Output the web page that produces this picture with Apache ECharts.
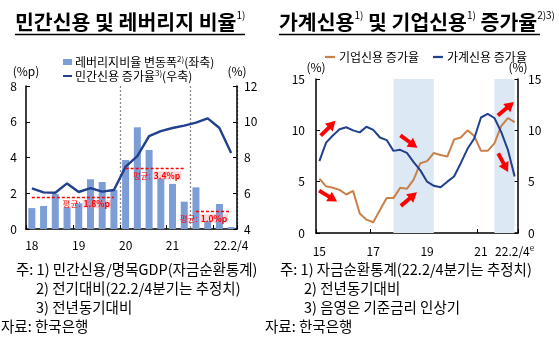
<!DOCTYPE html>
<html>
<head>
<meta charset="utf-8">
<script src="https://cdn.jsdelivr.net/npm/echarts@6/dist/echarts.min.js"></script>
<style>
  html, body { margin: 0; padding: 0; background: #fff; }
  #chart { width: 559px; height: 340px; }
</style>
</head>
<body>
<div id="chart"></div>
<script>
// ---- Left panel: private credit and leverage (quarterly, 18.1/4 ~ 22.2/4) ----
const leftQuarters = ['18.1','18.2','18.3','18.4','19.1','19.2','19.3','19.4',
                      '20.1','20.2','20.3','20.4','21.1','21.2','21.3','21.4',
                      '22.1','22.2'];
const leverageChange = [1.17, 1.29, 1.96, 1.21, 1.44, 2.78, 2.63, 2.20,
                        3.86, 5.69, 4.42, 2.83, 2.52, 1.53, 2.33, 0.45,
                        1.40, 0.11];
const privateCreditGrowth = [6.27, 6.05, 6.03, 6.55, 6.07, 6.29, 6.09, 6.18,
                             7.49, 8.08, 9.20, 9.48, 9.65, 9.78, 9.95, 10.19,
                             9.65, 8.25];
const leftTickCats = ['18.1', '19.1', '20.1', '21.1', '22.2'];
const leftTickText = ['18', '19', '20', '21', '22.2/4'];
// period averages of the leverage change
const avgFrom = ['18.1', '20.1', '21.3'];
const avgTo = ['19.4', '21.2', '22.2'];
const avgValue = [1.8, 3.4, 1.0];
// dotted separators sit on the boundaries before these quarters
const periodBreaks = ['20.1', '21.3'];

// ---- Right panel: household vs corporate credit growth (15.1/4 ~ 22.2/4) ----
const rightQuarters = ['15.1','15.2','15.3','15.4','16.1','16.2','16.3','16.4',
                       '17.1','17.2','17.3','17.4','18.1','18.2','18.3','18.4',
                       '19.1','19.2','19.3','19.4','20.1','20.2','20.3','20.4',
                       '21.1','21.2','21.3','21.4','22.1','22.2'];
const householdGrowth = [7.0, 8.8, 9.5, 10.1, 10.3, 10.0, 9.8, 10.35,
                         10.05, 9.3, 9.05, 8.0, 8.1, 7.8, 6.9, 6.1,
                         5.0, 4.6, 4.45, 5.0, 5.5, 6.8, 8.2, 9.2,
                         11.25, 11.6, 11.2, 9.85, 8.1, 5.5];
const corporateGrowth = [5.3, 4.55, 4.4, 4.2, 3.75, 4.1, 1.9, 1.3,
                         1.05, 2.25, 3.4, 3.4, 4.4, 4.3, 5.2, 6.8,
                         7.0, 7.8, 7.6, 7.45, 9.1, 9.3, 10.0, 9.45,
                         8.0, 8.0, 8.73, 10.4, 11.2, 10.8];
const rightTickCats = ['15.1', '17.1', '19.1', '21.1', '22.2'];
const rightTickText = ['15', '17', '19', '21', '22.2/4'];
// base-rate hike periods (shaded)
const hikeFrom = ['17.4', '21.3'];
const hikeTo = ['19.2', '22.2'];
// direction arrows: anchor quarter, value, angle (deg), sideways nudge (px)
const arrowAt = ['15.2', '15.2', '18.2', '18.2', '22.1', '21.4'];
const arrowVal = [10.2, 3.6, 8.9, 3.3, 12.1, 6.85];
const arrowAngle = [45, -31, -36, 40, 40, -62];
const arrowNudge = [2, 2, 2, 2, -2, 2];

const FONT = '"Noto Sans CJK KR", "Noto Sans", sans-serif';
const NAVY = '#21408d';
const BAR = '#7d9dd7';
const ORANGE = '#c98149';
const RED = '#ff0000';
const ARROW_PATH = 'path://M0,3.2 L11,3.2 L11,0 L20,5 L11,10 L11,6.8 L0,6.8 Z';
const LINE_ICON = 'path://M0,0 L20,0 L20,4.5 L0,4.5 Z';

const chart = echarts.init(document.getElementById('chart'), null, { renderer: 'canvas' });

const axisLine = { show: true, lineStyle: { color: '#000', width: 1.5 } };
const axisLabelBase = { color: '#000', fontFamily: FONT, fontSize: 12 };

function labelFrom(cats, texts) {
  return function (v) {
    const k = cats.indexOf(v);
    return k < 0 ? '' : texts[k];
  };
}

const avgLines = avgValue.map(function (v, i) {
  return [
    { coord: [avgFrom[i], v], value: v },
    { coord: [avgTo[i], v] }
  ];
});

const option = {
  animation: false,
  textStyle: { fontFamily: FONT },
  grid: [
    { left: 26, top: 86, width: 211, height: 143 },
    { left: 316, top: 79, width: 202, height: 154 }
  ],
  legend: [
    {
      orient: 'vertical', left: 58, top: 50,
      itemWidth: 9, itemHeight: 6, itemGap: 1,
      data: [
        { name: '레버리지비율 변동폭', icon: 'rect' },
        { name: '민간신용 증가율', icon: LINE_ICON }
      ],
      formatter: function (name) {
        return name === '레버리지비율 변동폭'
          ? '{a|레버리지비율 변동폭}{s|2)}{a|(좌축)}'
          : '{a|민간신용 증가율}{s|3)}{a|(우축)}';
      },
      textStyle: {
        color: '#000', fontFamily: FONT, fontSize: 12, padding: [0, 0, 0, -2],
        rich: {
          a: { fontSize: 12, fontFamily: FONT, color: '#000', lineHeight: 14 },
          s: { fontSize: 8, fontFamily: FONT, color: '#000', verticalAlign: 'top', lineHeight: 9 }
        }
      }
    },
    {
      orient: 'horizontal', left: 320, top: 46,
      itemWidth: 10, itemHeight: 10, itemGap: 14,
      data: [
        { name: '기업신용 증가율', icon: LINE_ICON },
        { name: '가계신용 증가율', icon: LINE_ICON }
      ],
      textStyle: { color: '#000', fontFamily: FONT, fontSize: 12, padding: [0, 0, 0, -1] }
    }
  ],
  xAxis: [
    {
      type: 'category', gridIndex: 0, data: leftQuarters, boundaryGap: true,
      axisLine: axisLine,
      axisTick: {
        show: true, inside: true, length: 4, lineStyle: { color: '#000' },
        interval: function (i) { return i % 4 === 0; }
      },
      splitLine: {
        show: true,
        interval: function (i, v) { return periodBreaks.indexOf(v) >= 0; },
        lineStyle: { color: '#8a8a8a', type: [2, 2], width: 1.3 }
      },
      axisLabel: Object.assign({}, axisLabelBase, {
        interval: 0, margin: 10, formatter: labelFrom(leftTickCats, leftTickText)
      })
    },
    {
      type: 'category', gridIndex: 1, data: rightQuarters, boundaryGap: true,
      axisLine: axisLine,
      axisTick: {
        show: true, inside: true, length: 4, lineStyle: { color: '#000' },
        interval: function (i) { return i % 8 === 0; }
      },
      axisLabel: Object.assign({}, axisLabelBase, {
        interval: 0, margin: 11,
        formatter: function (v) {
          const k = rightTickCats.indexOf(v);
          if (k < 0) return '';
          return k === rightTickCats.length - 1
            ? '{n|' + rightTickText[k] + '}{s|e}'
            : '{n|' + rightTickText[k] + '}';
        },
        rich: {
          n: { fontSize: 12, fontFamily: FONT, color: '#000', lineHeight: 14 },
          s: { fontSize: 8, fontFamily: FONT, color: '#000', verticalAlign: 'top', lineHeight: 8 }
        }
      })
    }
  ],
  yAxis: [
    {
      type: 'value', gridIndex: 0, min: 0, max: 8, interval: 2,
      axisLine: axisLine,
      axisTick: { show: true, inside: true, length: 4, lineStyle: { color: '#000' } },
      splitLine: { show: false },
      axisLabel: Object.assign({}, axisLabelBase, { margin: 9 }),
      name: '(%p)', nameLocation: 'end', nameGap: 9,
      nameTextStyle: { color: '#000', fontFamily: FONT, fontSize: 12, align: 'center' }
    },
    {
      type: 'value', gridIndex: 0, position: 'right', min: 4, max: 12, interval: 2,
      axisLine: axisLine,
      axisTick: { show: true, inside: true, length: 4, lineStyle: { color: '#000' } },
      splitLine: { show: false },
      axisLabel: Object.assign({}, axisLabelBase, { margin: 7 }),
      name: '(%)', nameLocation: 'end', nameGap: 9,
      nameTextStyle: { color: '#000', fontFamily: FONT, fontSize: 12, align: 'center' }
    },
    {
      type: 'value', gridIndex: 1, min: 0, max: 15, interval: 5,
      axisLine: axisLine,
      axisTick: { show: true, inside: true, length: 4, lineStyle: { color: '#000' } },
      splitLine: { show: false },
      axisLabel: Object.assign({}, axisLabelBase, { margin: 11 }),
      name: '(%)', nameLocation: 'end', nameGap: 6,
      nameTextStyle: { color: '#000', fontFamily: FONT, fontSize: 12, align: 'center' }
    },
    {
      type: 'value', gridIndex: 1, position: 'right', min: 0, max: 15, interval: 5,
      axisLine: axisLine,
      axisTick: { show: true, inside: true, length: 4, lineStyle: { color: '#000' } },
      splitLine: { show: false },
      axisLabel: Object.assign({}, axisLabelBase, { margin: 10 }),
      name: '(%)', nameLocation: 'end', nameGap: 6,
      nameTextStyle: { color: '#000', fontFamily: FONT, fontSize: 12, align: 'center' }
    }
  ],
  series: [
    {
      name: '레버리지비율 변동폭', type: 'bar', xAxisIndex: 0, yAxisIndex: 0,
      data: leverageChange, barWidth: 7,
      itemStyle: { color: BAR },
      markLine: {
        silent: true, symbol: ['none', 'none'],
        lineStyle: { color: RED, type: [3, 2], width: 1.3 },
        label: {
          show: true, position: 'insideEndBottom', distance: 3,
          formatter: function (p) { return '{a|평균: }{b|' + p.value.toFixed(1) + '%p}'; },
          rich: {
            a: { fontSize: 8.5, fontFamily: FONT, color: RED },
            b: { fontSize: 8.5, fontFamily: FONT, color: RED, fontWeight: 'bold',
                 backgroundColor: 'rgba(255,120,120,0.28)', padding: [0, 1, 0, 1] }
          }
        },
        data: avgLines
      },
      z: 2
    },
    {
      name: '민간신용 증가율', type: 'line', xAxisIndex: 0, yAxisIndex: 1,
      data: privateCreditGrowth, symbol: 'none',
      lineStyle: { color: NAVY, width: 2.4 }, itemStyle: { color: NAVY },
      z: 3
    },
    {
      name: '기업신용 증가율', type: 'line', xAxisIndex: 1, yAxisIndex: 2,
      data: corporateGrowth, symbol: 'none',
      lineStyle: { color: ORANGE, width: 2 }, itemStyle: { color: ORANGE },
      markArea: {
        silent: true,
        itemStyle: { color: '#dde8f5' },
        data: hikeFrom.map(function (f, i) { return [{ xAxis: f }, { xAxis: hikeTo[i] }]; })
      },
      markPoint: {
        silent: true,
        symbol: ARROW_PATH,
        symbolSize: [21, 11],
        symbolKeepAspect: false,
        itemStyle: { color: RED },
        label: { show: false },
        data: arrowAt.map(function (q, i) {
          return {
            coord: [q, arrowVal[i]],
            symbolRotate: arrowAngle[i],
            symbolOffset: [arrowNudge[i], 0]
          };
        })
      },
      z: 3
    },
    {
      name: '가계신용 증가율', type: 'line', xAxisIndex: 1, yAxisIndex: 2,
      data: householdGrowth, symbol: 'none',
      lineStyle: { color: NAVY, width: 2 }, itemStyle: { color: NAVY },
      z: 3
    }
  ],
  graphic: [
    // panel titles
    {
      type: 'text', left: 15, top: 10,
      style: {
        text: '{t|민간신용 및 레버리지 비율}{s|1)}',
        rich: {
          t: { fontSize: 20.5, fontWeight: 'bold', fontFamily: FONT, fill: '#000', lineHeight: 24 },
          s: { fontSize: 10, fontFamily: FONT, fill: '#000', verticalAlign: 'top', lineHeight: 12 }
        }
      }
    },
    { type: 'line', shape: { x1: 15, y1: 34.5, x2: 245, y2: 34.5 }, style: { stroke: '#000', lineWidth: 1.5 } },
    {
      type: 'text', left: 279, top: 10,
      style: {
        text: '{t|가계신용}{s|1)}{t| 및 기업신용}{s|1)}{t| 증가율}{s|2)3)}',
        rich: {
          t: { fontSize: 20.5, fontWeight: 'bold', fontFamily: FONT, fill: '#000', lineHeight: 24 },
          s: { fontSize: 10, fontFamily: FONT, fill: '#000', verticalAlign: 'top', lineHeight: 12 }
        }
      }
    },
    { type: 'line', shape: { x1: 279, y1: 34.5, x2: 540, y2: 34.5 }, style: { stroke: '#000', lineWidth: 1.5 } },
    // notes, left panel
    { type: 'text', left: 16, top: 262, style: { text: '주: 1) 민간신용/명목GDP(자금순환통계)', font: '14.5px ' + FONT, fill: '#000' } },
    { type: 'text', left: 36, top: 281, style: { text: '2) 전기대비(22.2/4분기는 추정치)', font: '14.5px ' + FONT, fill: '#000' } },
    { type: 'text', left: 36, top: 300, style: { text: '3) 전년동기대비', font: '14.5px ' + FONT, fill: '#000' } },
    { type: 'text', left: 1, top: 319, style: { text: '자료: 한국은행', font: '14.5px ' + FONT, fill: '#000' } },
    // notes, right panel
    { type: 'text', left: 280, top: 262, style: { text: '주: 1) 자금순환통계(22.2/4분기는 추정치)', font: '14.5px ' + FONT, fill: '#000' } },
    { type: 'text', left: 304, top: 281, style: { text: '2) 전년동기대비', font: '14.5px ' + FONT, fill: '#000' } },
    { type: 'text', left: 304, top: 300, style: { text: '3) 음영은 기준금리 인상기', font: '14.5px ' + FONT, fill: '#000' } },
    { type: 'text', left: 265, top: 319, style: { text: '자료: 한국은행', font: '14.5px ' + FONT, fill: '#000' } }
  ]
};

chart.setOption(option);
</script>
</body>
</html>
